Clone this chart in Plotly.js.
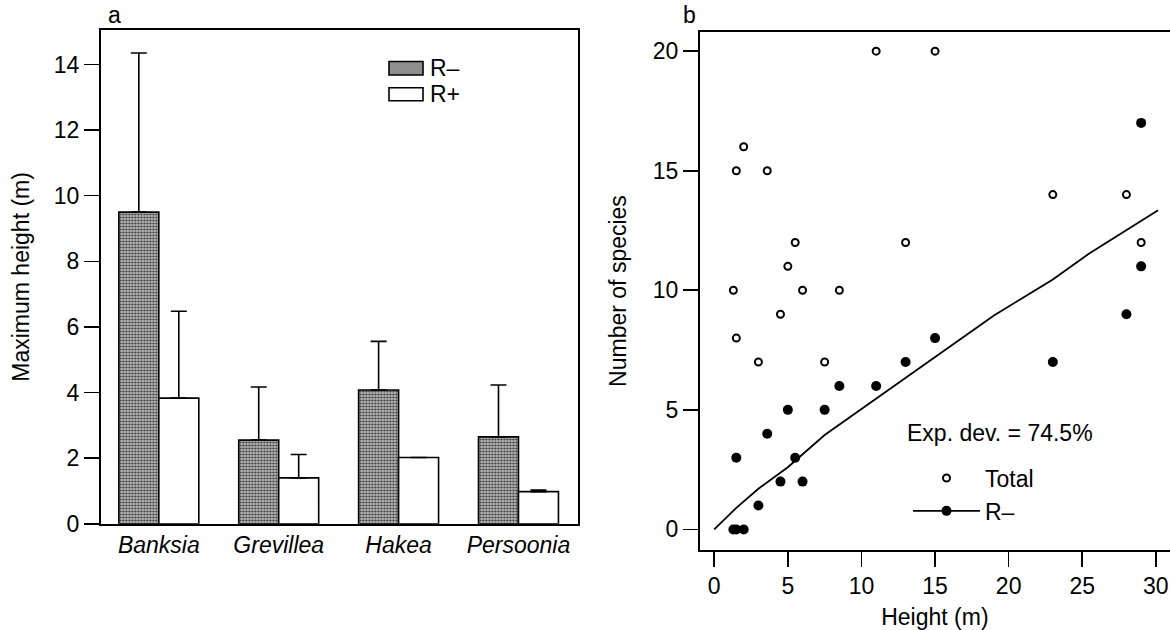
<!DOCTYPE html>
<html>
<head>
<meta charset="utf-8">
<script src="https://cdn.plot.ly/plotly-3.0.1.min.js"></script>
<style>html,body{margin:0;padding:0;background:#fff;}#chart{width:1170px;height:630px;}</style>
</head>
<body>
<div id="chart"></div>
<script>
// ---- Panel a data ----
const genera = ['Banksia', 'Grevillea', 'Hakea', 'Persoonia'];
const rMinusMean = [9.5, 2.55, 4.08, 2.65];
const rMinusErr = [4.85, 1.62, 1.48, 1.58];
const rPlusMean = [3.83, 1.4, 2.02, 0.98];
const rPlusErr = [2.65, 0.71, 0, 0.05];
const yTicksA = [0, 2, 4, 6, 8, 10, 12, 14];

// ---- Panel b data ----
const totalHeight = [11, 15, 2, 1.5, 3.6, 23, 28, 5.5, 13, 29, 5, 1.3, 6, 8.5, 4.5, 1.5, 3, 7.5];
const totalSpecies = [20, 20, 16, 15, 15, 14, 14, 12, 12, 12, 11, 10, 10, 10, 9, 8, 7, 7];
const rMinusHeight = [29, 29, 28, 15, 23, 13, 8.5, 11, 5, 7.5, 3.6, 1.5, 5.5, 4.5, 6, 3, 1.3, 1.5, 2];
const rMinusSpecies = [17, 11, 9, 8, 7, 7, 6, 6, 5, 5, 4, 3, 3, 2, 2, 1, 0, 0, 0];
const fitHeight = [0, 1.5, 3, 5, 7.5, 9, 11, 13, 16.5, 19, 21, 23, 25.5, 28, 30.15];
const fitSpecies = [0, 0.9, 1.7, 2.6, 3.95, 4.6, 5.5, 6.35, 7.85, 8.95, 9.7, 10.45, 11.55, 12.5, 13.35];
const xTicksB = [0, 5, 10, 15, 20, 25, 30];
const yTicksB = [0, 5, 10, 15, 20];

const W = 1170, H = 630;
const px = x => x / W;
const py = y => 1 - y / H;
const FONT = 'Liberation Sans, Arial, Helvetica, sans-serif';
const FS = 23;

// R- points interleaved with gaps so the legend shows line + marker but no line joins the points
const rmX = [], rmY = [];
rMinusHeight.forEach((h, i) => { rmX.push(h); rmY.push(rMinusSpecies[i]); rmX.push(null); rmY.push(null); });

const traces = [
  {
    type: 'bar', x: genera, y: rMinusMean, name: 'R–', xaxis: 'x', yaxis: 'y', showlegend: false,
    marker: {color: '#9a9a9a', line: {color: '#000', width: 1.6},
             pattern: {shape: '.', fgcolor: '#333', bgcolor: '#b8b8b8', size: 3, solidity: 0.4}},
    error_y: {type: 'data', symmetric: false, array: rMinusErr, arrayminus: rMinusErr.map(() => 0),
              color: '#000', thickness: 1.6, width: 8}
  },
  {
    type: 'bar', x: genera, y: rPlusMean, name: 'R+', xaxis: 'x', yaxis: 'y', showlegend: false,
    marker: {color: '#fff', line: {color: '#000', width: 1.6}},
    error_y: {type: 'data', symmetric: false, array: rPlusErr, arrayminus: rPlusErr.map(() => 0),
              color: '#000', thickness: 1.6, width: 8}
  },
  {
    type: 'scatter', mode: 'markers', x: totalHeight, y: totalSpecies, name: 'Total',
    xaxis: 'x2', yaxis: 'y2', legend: 'legend2',
    marker: {symbol: 'circle-open', size: 7, color: '#000', line: {width: 2, color: '#000'}}
  },
  {
    type: 'scatter', mode: 'lines+markers', x: rmX, y: rmY, name: 'R–', connectgaps: false,
    xaxis: 'x2', yaxis: 'y2', legend: 'legend2',
    line: {color: '#000', width: 1.6},
    marker: {symbol: 'circle', size: 10, color: '#000'}
  },
  {
    type: 'scatter', mode: 'lines', x: fitHeight, y: fitSpecies, name: 'fit', showlegend: false,
    xaxis: 'x2', yaxis: 'y2', line: {color: '#000', width: 1.8}
  }
];

const axisCommon = {
  showline: true, linecolor: '#000', linewidth: 1.8, showgrid: false, zeroline: false,
  ticks: 'outside', ticklen: 15, tickwidth: 1.6, tickcolor: '#000',
  tickfont: {family: FONT, size: FS, color: '#000'}, automargin: false
};

const layout = {
  width: W, height: H,
  margin: {l: 0, r: 0, t: 0, b: 0},
  paper_bgcolor: '#fff', plot_bgcolor: '#fff',
  font: {family: FONT, size: FS, color: '#000'},
  barmode: 'group', bargap: 0.333, bargroupgap: 0,
  xaxis: Object.assign({}, axisCommon, {
    domain: [px(100.8), px(577.7)], anchor: 'y', range: [-0.484, 3.494], mirror: true,
    ticks: '', tickfont: {family: FONT, size: FS, color: '#000', style: 'italic'}
  }),
  yaxis: Object.assign({}, axisCommon, {
    domain: [py(523.8), py(30)], anchor: 'x', range: [0, 15.05], mirror: true,
    tickvals: yTicksA, ticktext: yTicksA.map(String),
    title: {text: 'Maximum height (m)', standoff: 18, font: {family: FONT, size: FS, color: '#000'}}
  }),
  xaxis2: Object.assign({}, axisCommon, {
    domain: [px(699.8), 1], anchor: 'y2', range: [-0.98, 30.96], mirror: true,
    tickvals: xTicksB, ticktext: xTicksB.map(String),
    title: {text: 'Height (m)', font: {family: FONT, size: FS, color: '#000'}}
  }),
  yaxis2: Object.assign({}, axisCommon, {
    domain: [py(550), py(32)], anchor: 'x2', range: [-0.86, 20.8], mirror: false,
    tickvals: yTicksB, ticktext: yTicksB.map(String),
    title: {text: 'Number of species', standoff: 20, font: {family: FONT, size: FS, color: '#000'}}
  }),
  legend2: {
    x: px(908), y: py(456.5), xanchor: 'left', yanchor: 'top',
    bgcolor: 'rgba(0,0,0,0)', borderwidth: 0, itemwidth: 67,
    font: {family: FONT, size: FS, color: '#000'}, tracegroupgap: 0
  },
  showlegend: true,
  shapes: [
    {type: 'rect', xref: 'paper', yref: 'paper', x0: px(389), x1: px(423), y0: py(75), y1: py(61.5),
     line: {color: '#000', width: 1.6}, fillcolor: '#8e8e8e'},
    {type: 'rect', xref: 'paper', yref: 'paper', x0: px(389), x1: px(423), y0: py(100.8), y1: py(87.7),
     line: {color: '#000', width: 1.6}, fillcolor: '#fff'}
  ],
  annotations: [
    {text: 'a', xref: 'paper', yref: 'paper', x: px(106), y: py(15), xanchor: 'left', yanchor: 'middle', showarrow: false, font: {family: FONT, size: FS}},
    {text: 'b', xref: 'paper', yref: 'paper', x: px(681), y: py(15), xanchor: 'left', yanchor: 'middle', showarrow: false, font: {family: FONT, size: FS}},
    {text: 'R–', xref: 'paper', yref: 'paper', x: px(428), y: py(68), xanchor: 'left', yanchor: 'middle', showarrow: false, font: {family: FONT, size: FS}},
    {text: 'R+', xref: 'paper', yref: 'paper', x: px(428), y: py(94), xanchor: 'left', yanchor: 'middle', showarrow: false, font: {family: FONT, size: FS}},
    {text: 'Exp. dev. = 74.5%', xref: 'paper', yref: 'paper', x: px(905), y: py(433), xanchor: 'left', yanchor: 'middle', showarrow: false, font: {family: FONT, size: FS}}
  ]
};

Plotly.newPlot('chart', traces, layout, {staticPlot: true, displayModeBar: false});
</script>
</body>
</html>
